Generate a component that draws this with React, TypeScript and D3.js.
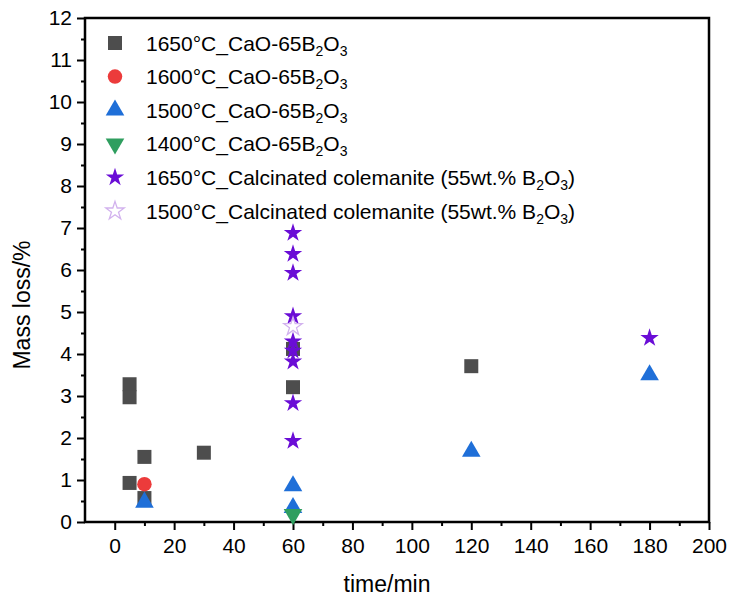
import React, { useRef, useEffect } from 'react';
import * as d3 from 'd3';

// 1650°C CaO-65B2O3 (squares)
const sq1650Time = [5, 5, 5, 10, 10, 30, 60, 60, 120];
const sq1650Loss = [3.28, 2.97, 0.93, 1.55, 0.57, 1.65, 4.12, 3.21, 3.71];
// 1600°C (circle)
const c1600Time = [10];
const c1600Loss = [0.9];
// 1500°C (up triangles)
const t1500Time = [10, 60, 60, 120, 180];
const t1500Loss = [0.47, 0.86, 0.34, 1.68, 3.5];
// 1400°C (down triangle)
const t1400Time = [60];
const t1400Loss = [0.18];
// 1650°C calcinated colemanite (filled stars)
const star1650Time = [60, 60, 60, 60, 60, 60, 60, 60, 60, 180];
const star1650Loss = [6.88, 6.38, 5.93, 4.9, 4.3, 4.08, 3.82, 2.83, 1.93, 4.38];
// 1500°C calcinated colemanite (open star)
const star1500Time = [60];
const star1500Loss = [4.65];

const xTicks = [0, 20, 40, 60, 80, 100, 120, 140, 160, 180, 200];
const yTicks = [0, 1, 2, 3, 4, 5, 6, 7, 8, 9, 10, 11, 12];

const legendLabels = [
  ['1650°C_CaO-65B', '2', 'O', '3'],
  ['1600°C_CaO-65B', '2', 'O', '3'],
  ['1500°C_CaO-65B', '2', 'O', '3'],
  ['1400°C_CaO-65B', '2', 'O', '3'],
  ['1650°C_Calcinated colemanite (55wt.% B', '2', 'O', '3', ')'],
  ['1500°C_Calcinated colemanite (55wt.% B', '2', 'O', '3', ')'],
];

const FONT = '"Liberation Sans", Arial, sans-serif';

const App = () => {
  const svgRef = useRef<SVGSVGElement>(null);

  useEffect(() => {
    const W = 732;
    const H = 603;
    const margin = { top: 18, right: 23, bottom: 81, left: 85 };
    const width = W - margin.left - margin.right;
    const height = H - margin.top - margin.bottom;

    const root = d3.select(svgRef.current);
    root.selectAll('*').remove();
    root.attr('width', W).attr('height', H).attr('viewBox', `0 0 ${W} ${H}`);
    root.append('rect').attr('width', W).attr('height', H).attr('fill', '#fff');

    const svg = root.append('g').attr('transform', `translate(${margin.left},${margin.top})`);

    const x = d3.scaleLinear().domain([-10, 200]).range([0, width]);
    const y = d3.scaleLinear().domain([0, 12]).range([height, 0]);

    // frame
    svg
      .append('rect')
      .attr('width', width)
      .attr('height', height)
      .attr('fill', 'none')
      .attr('stroke', '#000')
      .attr('stroke-width', 2.5);

    // axes
    const xAxis = svg
      .append('g')
      .attr('transform', `translate(0,${height})`)
      .call(d3.axisBottom(x).tickValues(xTicks).tickSize(8).tickPadding(8));
    const xMinor = svg
      .append('g')
      .attr('transform', `translate(0,${height})`)
      .call(d3.axisBottom(x).tickValues(d3.range(10, 200, 20)).tickSize(4).tickFormat(() => ''));
    const yAxis = svg
      .append('g')
      .call(d3.axisLeft(y).tickValues(yTicks).tickSize(8).tickPadding(5));
    const yMinor = svg
      .append('g')
      .call(d3.axisLeft(y).tickValues(d3.range(0.5, 12, 1)).tickSize(4).tickFormat(() => ''));

    [xAxis, xMinor, yAxis, yMinor].forEach((g) => {
      g.select('.domain').remove();
      g.selectAll('line').attr('stroke', '#000').attr('stroke-width', 2);
      g.selectAll('text').attr('font-family', FONT).attr('font-size', 21).attr('fill', '#000');
    });

    svg
      .append('text')
      .attr('x', width / 2 - 10)
      .attr('y', height + 70)
      .attr('text-anchor', 'middle')
      .attr('font-family', FONT)
      .attr('font-size', 23)
      .text('time/min');

    svg
      .append('text')
      .attr('transform', 'rotate(-90)')
      .attr('x', -(height / 2) - 35)
      .attr('y', -margin.left + 30)
      .attr('text-anchor', 'middle')
      .attr('font-family', FONT)
      .attr('font-size', 23)
      .text('Mass loss/%');

    const series = [
      { t: sq1650Time, v: sq1650Loss, sym: d3.symbolSquare, size: 196, fill: '#4d4d4d', stroke: 'none', rot: 0 },
      { t: c1600Time, v: c1600Loss, sym: d3.symbolCircle, size: 165, fill: '#ec3b3b', stroke: 'none', rot: 0 },
      { t: t1500Time, v: t1500Loss, sym: d3.symbolTriangle, size: 150, fill: '#1f6fd8', stroke: 'none', rot: 0 },
      { t: t1400Time, v: t1400Loss, sym: d3.symbolTriangle, size: 150, fill: '#2f9e5f', stroke: 'none', rot: 180 },
      { t: star1650Time, v: star1650Loss, sym: d3.symbolStar, size: 105, fill: '#6a0dd6', stroke: 'none', rot: 0 },
      { t: star1500Time, v: star1500Loss, sym: d3.symbolStar, size: 105, fill: '#ffffff', stroke: '#d2b2ee', rot: 0 },
    ];

    series.forEach((s) => {
      const path = d3.symbol().type(s.sym).size(s.size)();
      svg
        .append('g')
        .selectAll('path')
        .data(s.t.map((t, i) => ({ t, v: s.v[i] })))
        .join('path')
        .attr('d', path)
        .attr('transform', (d) => `translate(${x(d.t)},${y(d.v)}) rotate(${s.rot})`)
        .attr('fill', s.fill)
        .attr('fill-opacity', s.stroke === 'none' ? 1 : 0.6)
        .attr('stroke', s.stroke)
        .attr('stroke-width', 1.3);
    });

    // legend
    const legend = root.append('g').attr('transform', 'translate(115,43)');
    series.forEach((s, i) => {
      const row = legend.append('g').attr('transform', `translate(0,${i * 33.6})`);
      row
        .append('path')
        .attr('d', d3.symbol().type(s.sym).size(s.size)())
        .attr('transform', `rotate(${s.rot})`)
        .attr('fill', s.fill)
        .attr('stroke', s.stroke)
        .attr('stroke-width', 1.3);
      const txt = row
        .append('text')
        .attr('x', 31)
        .attr('y', 7.5)
        .attr('font-family', FONT)
        .attr('font-size', 21)
        .attr('fill', '#000');
      let sub = false;
      legendLabels[i].forEach((part, j) => {
        const isSub = j % 2 === 1;
        const ts = txt.append('tspan').text(part);
        if (isSub && !sub) ts.attr('dy', 5).attr('font-size', 14);
        else if (isSub) ts.attr('font-size', 14);
        else if (sub) ts.attr('dy', -5);
        sub = isSub;
      });
    });
  }, []);

  return <svg ref={svgRef} style={{ position: 'absolute', left: 0, top: 0, display: 'block' }} />;
};

export default App;
